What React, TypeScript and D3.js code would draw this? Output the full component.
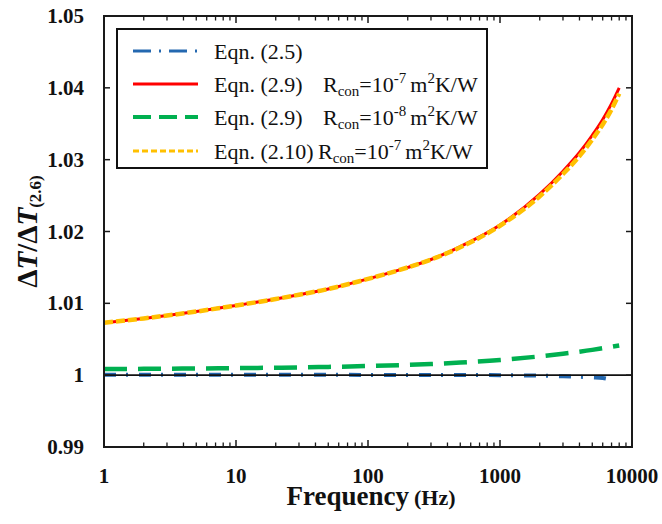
import React from "react";
import * as d3 from "d3";

const freqs = [1, 2, 3, 5, 10, 20, 30, 50, 100, 200, 300, 500, 1000, 2000, 3000, 4000, 5000, 6000, 7000, 8000];
const redVals = [1.0073, 1.0079, 1.0083, 1.00885, 1.0097, 1.0106, 1.0112, 1.012, 1.0134, 1.015, 1.0161, 1.0179, 1.0209, 1.0252, 1.0284, 1.031, 1.0334, 1.0356, 1.0378, 1.04];
const yellowVals = [1.0073, 1.0079, 1.0083, 1.00885, 1.0097, 1.0106, 1.0112, 1.012, 1.0134, 1.015, 1.0161, 1.0178, 1.0208, 1.0249, 1.028, 1.0305, 1.0328, 1.0349, 1.037, 1.0392];
const greenVals = [1.00085, 1.00088, 1.0009, 1.00093, 1.00098, 1.00104, 1.00108, 1.00115, 1.00127, 1.00143, 1.00155, 1.00175, 1.0021, 1.00262, 1.00298, 1.00327, 1.00352, 1.00375, 1.00395, 1.00413];
const blueFreqs = [1, 10, 100, 300, 500, 1000, 2000, 3000, 4000, 5000, 6000, 7000];
const blueVals = [1.00005, 1.00005, 1.00004, 1.00004, 1.00003, 1.0, 0.99993, 0.99985, 0.99978, 0.9997, 0.9996, 0.99935];

const xTicks = [1, 10, 100, 1000, 10000];
const yTicks = [0.99, 1.0, 1.01, 1.02, 1.03, 1.04, 1.05];
const yTickLabels = ["0.99", "1", "1.01", "1.02", "1.03", "1.04", "1.05"];

const legendEqns = ["Eqn. (2.5)", "Eqn. (2.9)", "Eqn. (2.9)", "Eqn. (2.10)"];
const legendExps = ["", "-7", "-8", "-7"];

const C_BLUE = "#2468B0";
const C_RED = "#FF0000";
const C_GREEN = "#00B050";
const C_YELLOW = "#FFC000";

export default function App() {
  const L = 104, R = 632, T = 16, B = 447;
  const x = d3.scaleLog().domain([1, 10000]).range([L, R]);
  const y = d3.scaleLinear().domain([0.99, 1.05]).range([B, T]);

  const line = d3
    .line<[number, number]>()
    .x((d) => x(d[0]))
    .y((d) => y(d[1]))
    .curve(d3.curveMonotoneX);

  const red = line(freqs.map((f, i) => [f, redVals[i]]))!;
  const yellow = line(freqs.map((f, i) => [f, yellowVals[i]]))!;
  const green = line(freqs.map((f, i) => [f, greenVals[i]]))!;
  const blue = line(blueFreqs.map((f, i) => [f, blueVals[i]]))!;

  const minor: number[] = [];
  for (let d = 1; d < 10000; d *= 10) for (let k = 2; k <= 9; k++) minor.push(d * k);

  const serif = "'Liberation Serif', 'Times New Roman', serif";
  const axisColor = "#1a1a1a";

  const legRows = [51, 84, 117, 151];
  const legStyles = [
    { c: C_BLUE, dash: "18,8,2,8", w: 3 },
    { c: C_RED, dash: "", w: 3 },
    { c: C_GREEN, dash: "18,8", w: 4 },
    { c: C_YELLOW, dash: "6,3", w: 3 },
  ];

  return (
    <svg width={662} height={524} style={{ position: "absolute", left: 0, top: 0, background: "#fff" }} fontFamily={serif}>
      <rect x={0} y={0} width={662} height={524} fill="#fff" />
      <defs>
        <clipPath id="plotclip">
          <rect x={L} y={T} width={R - L} height={B - T} />
        </clipPath>
      </defs>

      {/* series */}
      <g clipPath="url(#plotclip)" fill="none">
        <path d={blue} stroke={C_BLUE} strokeWidth={4} strokeDasharray="12,10,2,11" />
        <path d={green} stroke={C_GREEN} strokeWidth={4.5} strokeDasharray="23,11" />
        <path d={red} stroke={C_RED} strokeWidth={3} />
        <path d={yellow} stroke={C_YELLOW} strokeWidth={4.5} strokeDasharray="9,3" />
        <line x1={L} x2={R} y1={y(1)} y2={y(1)} stroke="#111" strokeWidth={1.8} />
      </g>

      {/* frame */}
      <rect x={L} y={T} width={R - L} height={B - T} fill="none" stroke={axisColor} strokeWidth={2} />

      {/* x ticks */}
      {xTicks.map((t) => (
        <g key={"xt" + t}>
          <line x1={x(t)} x2={x(t)} y1={B} y2={B - 7} stroke={axisColor} strokeWidth={1.5} />
          <line x1={x(t)} x2={x(t)} y1={T} y2={T + 7} stroke={axisColor} strokeWidth={1.5} />
          <text x={x(t)} y={483} textAnchor="middle" fontWeight="bold" fontSize={21} fill="#111">
            {t}
          </text>
        </g>
      ))}
      {minor.map((t) => (
        <g key={"xm" + t}>
          <line x1={x(t)} x2={x(t)} y1={B} y2={B - 4.5} stroke={axisColor} strokeWidth={1.3} />
          <line x1={x(t)} x2={x(t)} y1={T} y2={T + 4.5} stroke={axisColor} strokeWidth={1.3} />
        </g>
      ))}

      {/* y ticks */}
      {yTicks.map((t, i) => (
        <g key={"yt" + t}>
          <line x1={L} x2={L + 6} y1={y(t)} y2={y(t)} stroke={axisColor} strokeWidth={1.5} />
          <line x1={R} x2={R - 6} y1={y(t)} y2={y(t)} stroke={axisColor} strokeWidth={1.5} />
          <text x={84} y={y(t) + 7} textAnchor="end" fontWeight="bold" fontSize={21} fill="#111">
            {yTickLabels[i]}
          </text>
        </g>
      ))}

      {/* x title */}
      <text x={371} y={505} textAnchor="middle" fontWeight="bold" fill="#111">
        <tspan fontSize={27}>Frequency</tspan>
        <tspan fontSize={22} dx={5}>(Hz)</tspan>
      </text>

      {/* y title */}
      <text transform={`translate(37, ${(T + B) / 2}) rotate(-90)`} textAnchor="middle" fontWeight="bold" fill="#111" fontSize={29}>
        <tspan>Δ</tspan>
        <tspan fontStyle="italic">T</tspan>
        <tspan>/Δ</tspan>
        <tspan fontStyle="italic">T</tspan>
        <tspan fontSize={17} dy={4}>(2.6)</tspan>
      </text>

      {/* legend */}
      <rect x={117} y={29} width={370} height={139} fill="#fff" stroke="#111" strokeWidth={2} />
      {legRows.map((ry, i) => (
        <g key={"leg" + i}>
          <line x1={133} x2={198} y1={ry} y2={ry} stroke={legStyles[i].c} strokeWidth={legStyles[i].w} strokeDasharray={legStyles[i].dash} />
          <text x={214} y={ry + 8} fontSize={22} fill="#111">
            {legendEqns[i]}
          </text>
          {legendExps[i] !== "" && (
            <text x={i === 3 ? 318 : 323} y={ry + 8} fontSize={22} fill="#111">
              <tspan>R</tspan>
              <tspan fontSize={15} dy={4}>con</tspan>
              <tspan dy={-4}>=10</tspan>
              <tspan fontSize={15} dy={-9}>{legendExps[i]}</tspan>
              <tspan dy={9} dx={4}>m</tspan>
              <tspan fontSize={15} dy={-9}>2</tspan>
              <tspan dy={9}>K/W</tspan>
            </text>
          )}
        </g>
      ))}
    </svg>
  );
}
